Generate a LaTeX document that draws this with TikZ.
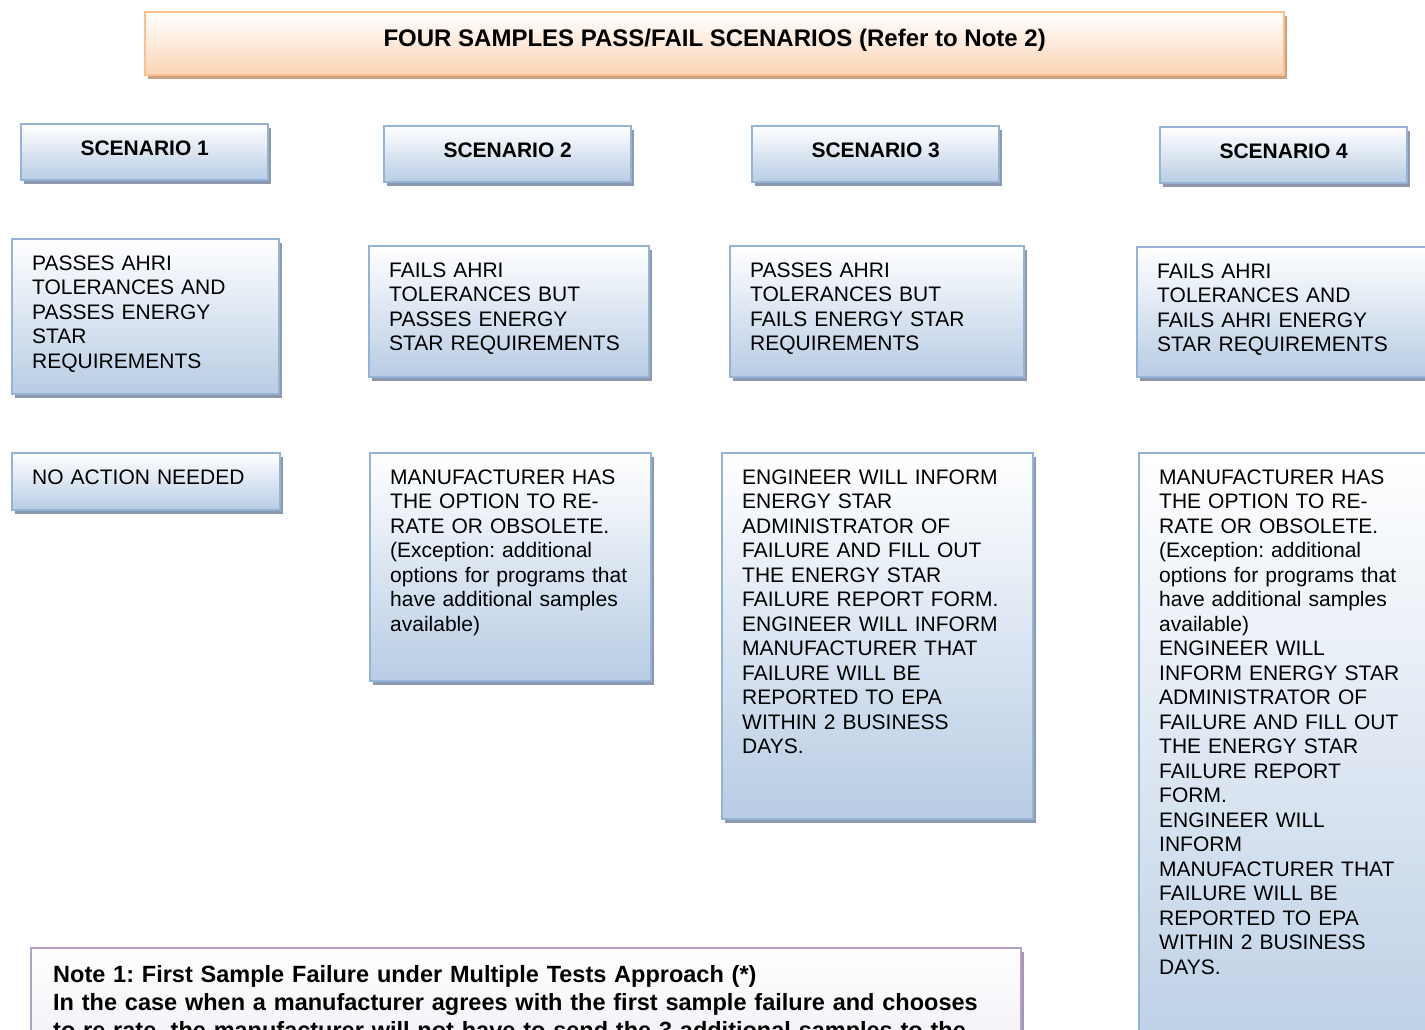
\documentclass[tikz,border=0pt]{standalone}
\usepackage{fontspec}
\setmainfont{Liberation Sans}
\usepackage{tikz}
\frenchspacing
\definecolor{colborder}{RGB}{149,179,215}
\definecolor{colfill}{RGB}{184,204,228}
\definecolor{colshadow}{RGB}{140,153,172}
\definecolor{coltitleborder}{RGB}{250,192,144}
\definecolor{coltitlefill}{RGB}{251,212,180}
\definecolor{coltitleshadow}{RGB}{204,163,130}
\definecolor{colnoteborder}{RGB}{178,161,199}
\definecolor{colnotefill}{RGB}{229,223,236}
\usetikzlibrary{
	positioning,
	shadows
}
\tikzset{
	card/.style={draw=colborder, line width=1.2pt, top color=white, bottom color=colfill,
		drop shadow={shadow xshift=1.6pt, shadow yshift=-2pt, fill=colshadow, opacity=1},
		anchor=north west},
	panel/.style={card, align=left, inner xsep=10pt, inner ysep=6.5pt, text height=9pt,
		font=\fontsize{10.5pt}{12.25pt}\selectfont},
	scenario/.style={card, align=center, minimum width=123.5pt, minimum height=28pt,
		text height=7.6pt, text depth=4pt, font=\fontsize{10.5pt}{12.25pt}\selectfont\bfseries},
	banner/.style={card, draw=coltitleborder, bottom color=coltitlefill,
		drop shadow={shadow xshift=1.6pt, shadow yshift=-2pt, fill=coltitleshadow, opacity=1},
		minimum width=569.5pt, minimum height=31.5pt, text height=9pt, text depth=6.5pt,
		font=\fontsize{12pt}{14pt}\selectfont\bfseries},
	notebox/.style={panel, draw=colnoteborder, bottom color=colnotefill,
		drop shadow={shadow xshift=1.6pt, shadow yshift=-2pt, fill=colnoteborder!70!gray, opacity=1},
		inner xsep=11pt, inner ysep=7pt, text height=10pt, font=\fontsize{11.75pt}{14pt}\selectfont\bfseries}
}
\begin{document}
\begin{tikzpicture}[x=0.5pt, y=-0.5pt]
	\path[use as bounding box, clip] (0,0) rectangle (1425,1029);
	% heading
	\node[banner] (title) at (144,11) {FOUR SAMPLES PASS/FAIL SCENARIOS (Refer to Note 2)};
	% scenario headers
	\foreach \i/\x/\y in {1/20/123, 2/383/125, 3/751/125, 4/1159/126} {
		\node[scenario] (scen\i) at (\x,\y) {SCENARIO \i};
	}
	% test results
	\node[panel, text width=113.5pt, text depth=55.5pt] (result1) at (11,238)
		{PASSES AHRI\\TOLERANCES AND\\PASSES ENERGY\\STAR\\REQUIREMENTS};
	\node[panel, text width=120pt, text depth=43.5pt] (result2) at (368,245)
		{FAILS AHRI\\TOLERANCES BUT\\PASSES ENERGY\\STAR REQUIREMENTS};
	\node[panel, text width=127pt, text depth=43.5pt] (result3) at (729,245)
		{PASSES AHRI\\TOLERANCES BUT\\FAILS ENERGY STAR\\REQUIREMENTS};
	\node[panel, text width=130pt, text depth=43pt] (result4) at (1136,246)
		{FAILS AHRI\\TOLERANCES AND\\FAILS AHRI ENERGY\\STAR REQUIREMENTS};
	% actions
	\node[panel, text width=114pt, text depth=6.5pt] (action1) at (11,452)
		{NO ACTION NEEDED};
	\node[panel, text width=120.5pt, text depth=92pt] (action2) at (369,452)
		{MANUFACTURER HAS\\THE OPTION TO RE-\\RATE OR OBSOLETE.\\(Exception: additional\\options for programs that\\have additional samples\\available)};
	\node[panel, text width=135.5pt, text depth=161pt] (action3) at (721,452)
		{ENGINEER WILL INFORM\\ENERGY STAR\\ADMINISTRATOR OF\\FAILURE AND FILL OUT\\THE ENERGY STAR\\FAILURE REPORT FORM.\\ENGINEER WILL INFORM\\MANUFACTURER THAT\\FAILURE WILL BE\\REPORTED TO EPA\\WITHIN 2 BUSINESS\\DAYS.};
	\node[panel, text width=130pt, text depth=300pt] (action4) at (1138,452)
		{MANUFACTURER HAS\\THE OPTION TO RE-\\RATE OR OBSOLETE.\\(Exception: additional\\options for programs that\\have additional samples\\available)\\ENGINEER WILL\\INFORM ENERGY STAR\\ADMINISTRATOR OF\\FAILURE AND FILL OUT\\THE ENERGY STAR\\FAILURE REPORT\\FORM.\\ENGINEER WILL\\INFORM\\MANUFACTURER THAT\\FAILURE WILL BE\\REPORTED TO EPA\\WITHIN 2 BUSINESS\\DAYS.};
	% note
	\node[notebox, text width=473pt, text depth=80pt] (note1) at (30,947)
		{Note 1: First Sample Failure under Multiple Tests Approach (*)\\In the case when a manufacturer agrees with the first sample failure and chooses\\to re-rate, the manufacturer will not have to send the 3 additional samples to the};
\end{tikzpicture}
\end{document}
